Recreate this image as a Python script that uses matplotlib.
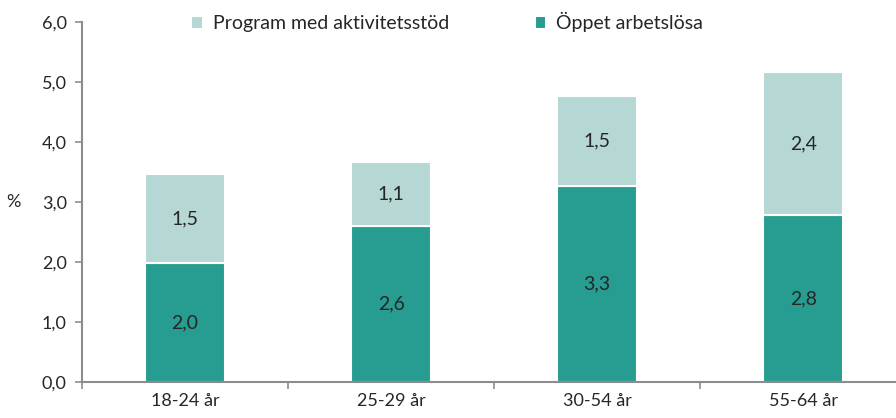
import numpy as np
import matplotlib
matplotlib.use("Agg")
import matplotlib.pyplot as plt
from matplotlib.ticker import FuncFormatter

plt.rcParams["font.family"] = ["Lato", "DejaVu Sans"]
plt.rcParams["text.color"] = "#262626"
plt.rcParams["xtick.labelcolor"] = "#262626"
plt.rcParams["ytick.labelcolor"] = "#262626"

# Data
categories = ["18-24 år", "25-29 år", "30-54 år", "55-64 år"]
oppet = [1.98, 2.60, 3.27, 2.78]       # Öppet arbetslösa
program = [1.49, 1.07, 1.50, 2.39]     # Program med aktivitetsstöd

dark = "#279C90"
light = "#B5D8D4"
grey = "#8C8C8C"

def fmt(v):
    return f"{v:.1f}".replace(".", ",")

fig = plt.figure(figsize=(8.96, 4.18), dpi=100)
ax = fig.add_axes([0.0915, 0.086, 0.92, 0.861])

x = np.arange(len(categories))
w = 0.39

b1 = ax.bar(x, oppet, w, color=dark, edgecolor="white", linewidth=1.5,
            label="Öppet arbetslösa", zorder=2)
b2 = ax.bar(x, program, w, bottom=oppet, color=light, edgecolor="white",
            linewidth=1.5, label="Program med aktivitetsstöd", zorder=2)

# segment labels
for i in range(len(categories)):
    ax.text(x[i], oppet[i] / 2, fmt(oppet[i]), ha="center", va="center",
            fontsize=14)
    ax.text(x[i], oppet[i] + program[i] / 2, fmt(program[i]), ha="center",
            va="center", fontsize=14)

ax.set_xlim(-0.5, len(categories) - 0.5)
ax.set_ylim(0, 6)
ax.set_yticks(np.arange(0, 6.01, 1))
ax.yaxis.set_major_formatter(FuncFormatter(lambda v, p: fmt(v)))

# x ticks at category boundaries, labels centred
ax.set_xticks(np.arange(-0.5, len(categories), 1))
ax.set_xticklabels([])
ax.set_xticks(x, minor=True)
ax.set_xticklabels(categories, minor=True)
ax.tick_params(axis="x", which="minor", length=0, pad=8, labelsize=13)
ax.tick_params(axis="x", which="major", length=5, width=1.2, color=grey)
ax.tick_params(axis="y", length=5, width=1.2, color=grey, labelsize=13, pad=6)

for s in ["top", "right"]:
    ax.spines[s].set_visible(False)
for s in ["left", "bottom"]:
    ax.spines[s].set_color(grey)
    ax.spines[s].set_linewidth(1.5)

ax.text(-0.083, 3.0, "%", transform=ax.get_yaxis_transform(), ha="center",
        va="center", fontsize=13)

ax.legend(handles=[b2, b1], loc="center", bbox_to_anchor=(0.443, 1.0),
          ncol=2, frameon=False, fontsize=14, handlelength=0.6,
          handleheight=0.6, columnspacing=4.4, handletextpad=0.5)

fig.savefig("out.png", dpi=100)
